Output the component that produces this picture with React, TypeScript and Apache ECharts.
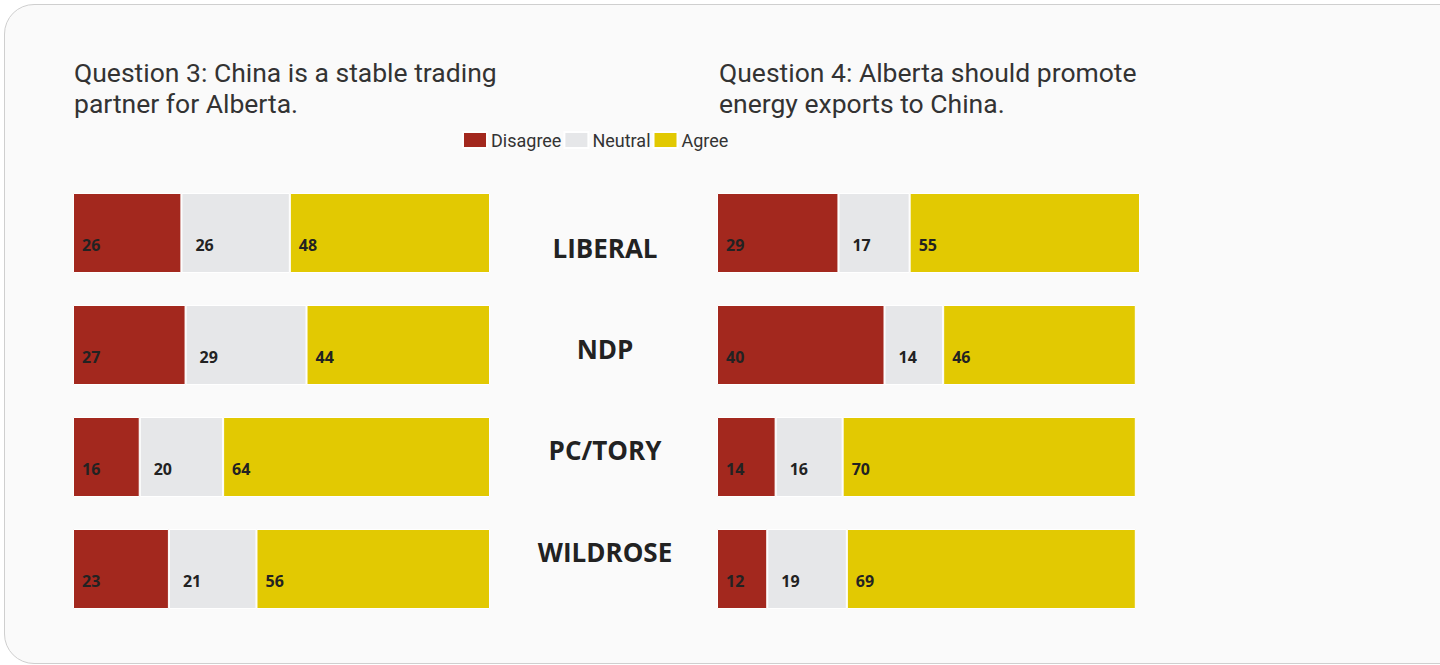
import React, { useEffect, useRef } from "react";
import * as echarts from "echarts";

const categories = ["LIBERAL", "NDP", "PC/TORY", "WILDROSE"];
const seriesNames = ["Disagree", "Neutral", "Agree"];
const q3Disagree = [26, 27, 16, 23];
const q3Neutral = [26, 29, 20, 21];
const q3Agree = [48, 44, 64, 56];
const q4Disagree = [29, 40, 14, 12];
const q4Neutral = [17, 14, 16, 19];
const q4Agree = [55, 46, 70, 69];
const titles = [
  "Question 3: China is a stable trading\npartner for Alberta.",
  "Question 4: Alberta should promote\nenergy exports to China.",
];

const COLORS = ["#a3281e", "#e6e7e9", "#e2c902"];
const FONT = "'Open Sans', Roboto, sans-serif";
const TFONT = "Roboto, 'Open Sans', sans-serif";

export default function App() {
  const ref = useRef<HTMLDivElement>(null);
  useEffect(() => {
    document.body.style.margin = "0";
    const chart = echarts.init(ref.current!, null, { renderer: "svg" });
    const labelDist = [9, 14, 9];
    const mk = (name: string, data: number[], idx: number, gi: number) => ({
      type: "bar",
      name,
      stack: "s" + gi,
      xAxisIndex: gi,
      yAxisIndex: gi,
      data,
      barWidth: 80,
      itemStyle: { color: COLORS[idx], borderColor: "#ffffff", borderWidth: 1 },
      label: {
        show: true,
        position: "insideLeft",
        distance: labelDist[idx],
        offset: [0, 12],
        color: "#222222",
        fontWeight: "bold",
        fontSize: 16,
        fontFamily: FONT,
      },
      emphasis: { disabled: true },
    });
    const titleStyle = { fontFamily: TFONT, fontWeight: 400, fontSize: 26.5, color: "#333333", lineHeight: 31 };
    const option: any = {
      animation: false,
      backgroundColor: "transparent",
      title: [
        { text: titles[0], left: 69, top: 52, padding: [5, 5, 5, 5], textStyle: titleStyle },
        { text: titles[1], left: 714, top: 52, padding: [5, 5, 5, 5], textStyle: titleStyle },
      ],
      legend: {
        data: seriesNames,
        left: 462,
        top: 131,
        padding: 0,
        icon: "rect",
        itemWidth: 24,
        itemHeight: 16,
        itemGap: 2,
        selectedMode: false,
        textStyle: { fontFamily: TFONT, fontSize: 18, color: "#333", padding: [0, 0, 0, -1] },
      },
      grid: [
        { left: 73, top: 177, width: 417, height: 448 },
        { left: 717, top: 177, width: 423, height: 448 },
        { left: 605, top: 247.5, width: 10, height: 304 },
      ],
      xAxis: [
        { type: "value", gridIndex: 0, min: 0, max: 100, show: false },
        { type: "value", gridIndex: 1, min: 0, max: 101, show: false },
        { type: "value", gridIndex: 2, min: 0, max: 1, show: false },
      ],
      yAxis: [
        { type: "category", gridIndex: 0, data: categories, inverse: true, show: false },
        { type: "category", gridIndex: 1, data: categories, inverse: true, show: false },
        {
          type: "category",
          gridIndex: 2,
          data: categories,
          inverse: true,
          boundaryGap: false,
          axisLine: { show: false },
          axisTick: { show: false },
          splitLine: { show: false },
          axisLabel: {
            margin: 0,
            align: "center",
            verticalAlign: "middle",
            color: "#222",
            fontWeight: "bold",
            fontSize: 26,
            fontFamily: FONT,
          },
        },
      ],
      series: [
        mk(seriesNames[0], q3Disagree, 0, 0),
        mk(seriesNames[1], q3Neutral, 1, 0),
        mk(seriesNames[2], q3Agree, 2, 0),
        mk(seriesNames[0], q4Disagree, 0, 1),
        mk(seriesNames[1], q4Neutral, 1, 1),
        mk(seriesNames[2], q4Agree, 2, 1),
      ],
    };
    chart.setOption(option);
    return () => chart.dispose();
  }, []);
  return (
    <div style={{ position: "fixed", left: 0, top: 0, width: 1440, height: 665, background: "#ffffff", overflow: "hidden" }}>
      <div
        style={{
          position: "absolute",
          left: 4,
          top: 4,
          width: 1520,
          height: 658,
          border: "1px solid #cfcfcf",
          borderRadius: 30,
          background: "#fafafa",
        }}
      />
      <div ref={ref} style={{ position: "absolute", left: 0, top: 0, width: 1440, height: 665 }} />
    </div>
  );
}
